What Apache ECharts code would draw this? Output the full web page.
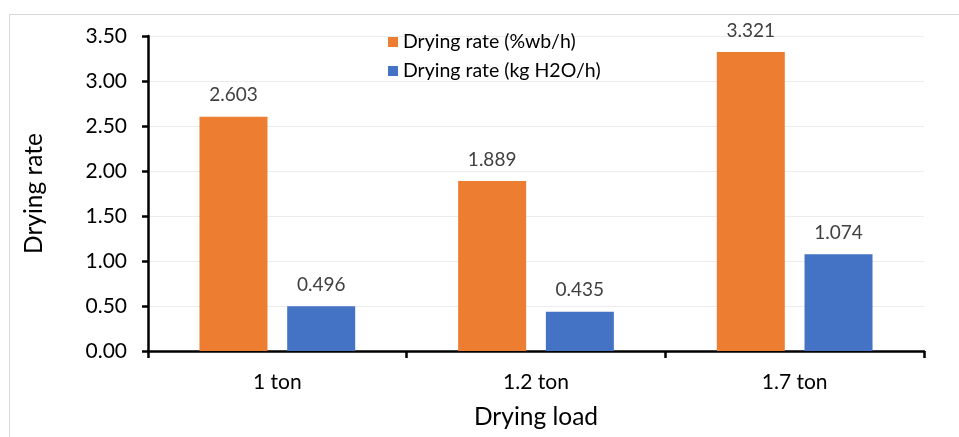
<!DOCTYPE html>
<html>
<head>
<meta charset="utf-8">
<script src="https://cdn.jsdelivr.net/npm/echarts@6/dist/echarts.min.js"></script>
<style>
  html, body { margin: 0; padding: 0; background: #fff; }
  #chart { width: 959px; height: 437px; }
</style>
</head>
<body>
<div id="chart"></div>
<script>
var categories = ['1 ton', '1.2 ton', '1.7 ton'];
var rateWb = [2.603, 1.889, 3.321];
var rateKg = [0.496, 0.435, 1.074];
var seriesNames = ['Drying rate (%wb/h)', 'Drying rate (kg H2O/h)'];

var font = 'Lato, "Open Sans", sans-serif';
var myChart = echarts.init(document.getElementById('chart'));

var labelStyle = {
  show: true,
  position: 'top',
  distance: 12,
  color: '#404040',
  fontSize: 19,
  fontFamily: font,
  formatter: function (p) { return p.value.toFixed(3); }
};

var option = {
  animation: false,
  graphic: [{
    type: 'rect',
    shape: { x: 9.5, y: 14.5, width: 1000, height: 500 },
    style: { fill: 'none', stroke: '#d9d9d9', lineWidth: 1 }
  }],
  legend: {
    orient: 'vertical',
    left: 383,
    top: 27,
    itemWidth: 10,
    itemHeight: 10,
    itemGap: 9,
    icon: 'rect',
    textStyle: { fontSize: 19.5, fontFamily: font, color: '#000' },
    data: seriesNames
  },
  grid: { left: 148, right: 35, top: 36, bottom: 86 },
  xAxis: {
    type: 'category',
    data: categories,
    name: 'Drying load',
    nameLocation: 'middle',
    nameGap: 54,
    nameTextStyle: { fontSize: 24.5, fontFamily: font, color: '#000' },
    axisLine: { lineStyle: { color: '#000', width: 2.5 } },
    axisTick: { show: true, length: 7, lineStyle: { color: '#000', width: 2.5 } },
    axisLabel: { fontSize: 21, fontFamily: font, color: '#000', margin: 21 }
  },
  yAxis: {
    type: 'value',
    min: 0,
    max: 3.5,
    interval: 0.5,
    name: 'Drying rate',
    nameLocation: 'middle',
    nameGap: 101,
    nameTextStyle: { fontSize: 24.5, fontFamily: font, color: '#000' },
    axisLine: { show: true, lineStyle: { color: '#000', width: 2.5 } },
    axisTick: { show: true, length: 6, lineStyle: { color: '#000', width: 2.5 } },
    axisLabel: {
      fontSize: 21, fontFamily: font, color: '#000', margin: 21,
      formatter: function (v) { return v.toFixed(2); }
    },
    splitLine: { lineStyle: { color: '#ececec', width: 1 } }
  },
  series: [
    {
      name: seriesNames[0],
      type: 'bar',
      data: rateWb,
      barWidth: 68,
      barGap: '29%',
      itemStyle: { color: '#ed7d31' },
      label: labelStyle
    },
    {
      name: seriesNames[1],
      type: 'bar',
      data: rateKg,
      barWidth: 68,
      barGap: '29%',
      itemStyle: { color: '#4472c4' },
      label: labelStyle
    }
  ]
};
myChart.setOption(option);
</script>
</body>
</html>
